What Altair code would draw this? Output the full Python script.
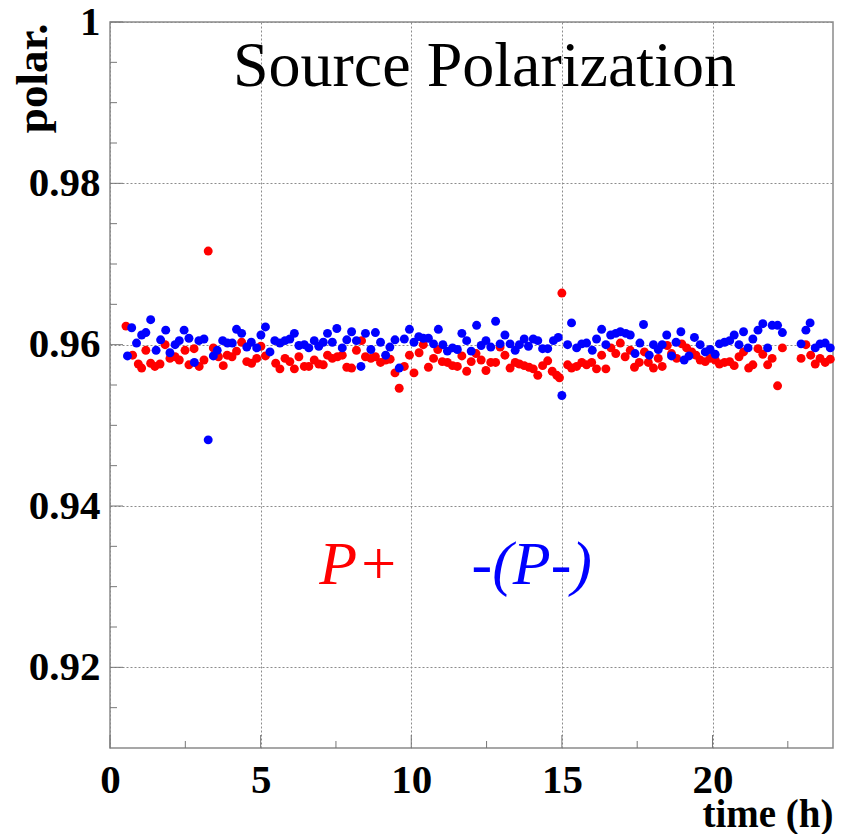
import altair as alt
import pandas as pd

# ---- data ----
blue_t = [0.58, 0.72, 0.88, 1.05, 1.19, 1.35, 1.53, 1.68, 1.85, 1.99, 2.16, 2.30, 2.46, 2.62, 2.80, 2.95,
          3.12, 3.26, 3.43, 3.56, 3.74, 3.90, 4.06, 4.20, 4.37, 4.54, 4.69, 4.87, 5.01, 5.16, 5.31, 5.47,
          5.64, 5.81, 5.97, 6.12, 6.27, 6.45, 6.60, 6.78, 6.93, 7.08, 7.22, 7.38, 7.53, 7.71, 7.86, 8.02,
          8.18, 8.33, 8.48, 8.66, 8.81, 8.98, 9.15, 9.29, 9.46, 9.60, 9.77, 9.94, 10.09, 10.25, 10.40, 10.57,
          10.74, 10.90, 11.05, 11.20, 11.37, 11.53, 11.68, 11.84, 11.99, 12.17, 12.32, 12.48, 12.64, 12.80,
          12.95, 13.11, 13.28, 13.45, 13.59, 13.75, 13.89, 14.05, 14.20, 14.36, 14.53, 14.72, 14.88, 15.00,
          15.19, 15.32, 15.49, 15.66, 15.82, 16.01, 16.15, 16.32, 16.46, 16.62, 16.79, 16.94, 17.12, 17.27,
          17.43, 17.59, 17.71, 17.90, 18.04, 18.20, 18.33, 18.48, 18.64, 18.79, 18.95, 19.06, 19.22, 19.40,
          19.59, 19.76, 19.92, 20.09, 20.23, 20.40, 20.57, 20.72, 20.88, 21.03, 21.18, 21.34, 21.51, 21.67,
          21.83, 21.98, 22.16, 22.32, 22.94, 23.10, 23.24, 23.41, 23.57, 23.74, 23.91]
blue_v = [0.9586, 0.9621, 0.9602, 0.9612, 0.9615, 0.9631, 0.9593, 0.9606, 0.9618, 0.9590, 0.9600, 0.9605,
          0.9618, 0.9608, 0.9578, 0.9605, 0.9607, 0.9482, 0.9586, 0.9593, 0.9605, 0.9602, 0.9602, 0.9619,
          0.9614, 0.9597, 0.9603, 0.9596, 0.9612, 0.9622, 0.9591, 0.9605, 0.9602, 0.9605, 0.9607, 0.9614,
          0.9599, 0.9600, 0.9596, 0.9605, 0.9598, 0.9603, 0.9614, 0.9603, 0.9620, 0.9596, 0.9606, 0.9616,
          0.9605, 0.9573, 0.9614, 0.9594, 0.9615, 0.9603, 0.9587, 0.9597, 0.9606, 0.9571, 0.9607, 0.9619,
          0.9603, 0.9610, 0.9608, 0.9608, 0.9601, 0.9619, 0.9600, 0.9592, 0.9596, 0.9594, 0.9614, 0.9605,
          0.9592, 0.9624, 0.9599, 0.9605, 0.9597, 0.9629, 0.9601, 0.9612, 0.9601, 0.9593, 0.9600, 0.9607,
          0.9598, 0.9607, 0.9605, 0.9595, 0.9595, 0.9605, 0.9609, 0.9537, 0.9600, 0.9627, 0.9596, 0.9601,
          0.9602, 0.9593, 0.9607, 0.9619, 0.9600, 0.9612, 0.9614, 0.9616, 0.9614, 0.9612, 0.9589, 0.9602,
          0.9625, 0.9587, 0.9600, 0.9594, 0.9600, 0.9612, 0.9586, 0.9603, 0.9616, 0.9581, 0.9586, 0.9609,
          0.9600, 0.9591, 0.9594, 0.9588, 0.9601, 0.9603, 0.9605, 0.9612, 0.9600, 0.9616, 0.9596, 0.9607,
          0.9618, 0.9626, 0.9596, 0.9624, 0.9624, 0.9615, 0.9601, 0.9618, 0.9627, 0.9596, 0.9601, 0.9602,
          0.9596]

red_t = [0.53, 0.75, 0.94, 1.05, 1.19, 1.35, 1.49, 1.66, 1.83, 1.99, 2.16, 2.30, 2.49, 2.62, 2.79, 2.96,
         3.12, 3.26, 3.43, 3.60, 3.76, 3.89, 4.05, 4.20, 4.37, 4.54, 4.70, 4.87, 5.01, 5.16, 5.50, 5.64,
         5.81, 5.97, 6.12, 6.27, 6.45, 6.60, 6.78, 6.93, 7.08, 7.22, 7.38, 7.55, 7.71, 7.86, 8.02, 8.18,
         8.35, 8.48, 8.66, 8.81, 8.98, 9.15, 9.30, 9.46, 9.60, 9.77, 9.94, 10.09, 10.26, 10.40, 10.57, 10.74,
         10.88, 11.03, 11.20, 11.37, 11.53, 11.68, 11.84, 11.99, 12.15, 12.32, 12.48, 12.64, 12.80, 12.95,
         13.11, 13.28, 13.45, 13.59, 13.75, 13.91, 14.05, 14.20, 14.36, 14.53, 14.68, 14.83, 14.92, 15.00,
         15.19, 15.32, 15.49, 15.66, 15.82, 15.99, 16.15, 16.32, 16.46, 16.63, 16.79, 16.94, 17.10, 17.27,
         17.41, 17.57, 17.74, 17.87, 18.04, 18.20, 18.33, 18.50, 18.64, 18.81, 18.98, 19.14, 19.31, 19.45,
         19.59, 19.76, 19.92, 20.09, 20.23, 20.40, 20.57, 20.72, 20.88, 21.03, 21.20, 21.34, 21.51, 21.67,
         21.83, 21.98, 22.16, 22.32, 22.94, 23.10, 23.26, 23.41, 23.57, 23.74, 23.91]
red_v = [0.9623, 0.9587, 0.9576, 0.9571, 0.9593, 0.9577, 0.9573, 0.9576, 0.9600, 0.9583, 0.9585, 0.9581,
         0.9593, 0.9575, 0.9595, 0.9573, 0.9581, 0.9716, 0.9596, 0.9585, 0.9574, 0.9587, 0.9585, 0.9592,
         0.9603, 0.9579, 0.9577, 0.9583, 0.9598, 0.9586, 0.9577, 0.9570, 0.9583, 0.9579, 0.9570, 0.9585,
         0.9573, 0.9573, 0.9581, 0.9576, 0.9575, 0.9587, 0.9583, 0.9585, 0.9587, 0.9572, 0.9571, 0.9593,
         0.9605, 0.9585, 0.9583, 0.9585, 0.9578, 0.9581, 0.9582, 0.9565, 0.9546, 0.9573, 0.9587, 0.9565,
         0.9590, 0.9600, 0.9572, 0.9583, 0.9594, 0.9579, 0.9578, 0.9574, 0.9573, 0.9586, 0.9567, 0.9579,
         0.9589, 0.9581, 0.9568, 0.9578, 0.9578, 0.9597, 0.9587, 0.9571, 0.9578, 0.9576, 0.9574, 0.9572,
         0.9570, 0.9562, 0.9574, 0.9580, 0.9567, 0.9562, 0.9559, 0.9664, 0.9575, 0.9571, 0.9573, 0.9578,
         0.9575, 0.9578, 0.9570, 0.9587, 0.9570, 0.9596, 0.9589, 0.9602, 0.9585, 0.9593, 0.9572, 0.9578,
         0.9591, 0.9578, 0.9571, 0.9583, 0.9573, 0.9599, 0.9589, 0.9583, 0.9601, 0.9596, 0.9591, 0.9587,
         0.9581, 0.9579, 0.9583, 0.9581, 0.9576, 0.9578, 0.9579, 0.9574, 0.9585, 0.9591, 0.9571, 0.9575,
         0.9595, 0.9588, 0.9575, 0.9583, 0.9549, 0.9596, 0.9583, 0.9600, 0.9587, 0.9576, 0.9583, 0.9578,
         0.9582]

x_major = [0, 5, 10, 15, 20]
x_minor = [2.5, 7.5, 12.5, 17.5, 22.5]
y_major = [0.92, 0.94, 0.96, 0.98, 1.0]
y_minor = [0.915, 0.925, 0.93, 0.935, 0.945, 0.95, 0.955, 0.965, 0.97, 0.975, 0.985, 0.99, 0.995]

title_text = ["Source Polarization"]
title_pos = [(4.08, 0.9921)]
legend_text = ["P+", "-(P-)"]
legend_pos = [(6.95, 0.9303), (12.0, 0.9303)]
legend_col = ["#ff0000", "#0000ff"]

X_DOM = [0, 24]
Y_DOM = [0.91, 1.0]
W, H = 723, 726
SERIF = "Liberation Serif, Times New Roman, Times, serif"

red_df = pd.DataFrame({"t": red_t, "v": red_v})
blue_df = pd.DataFrame({"t": blue_t, "v": blue_v})

xs = alt.Scale(domain=X_DOM, nice=False, zero=False)
ys = alt.Scale(domain=Y_DOM, nice=False, zero=False)

GRID = dict(grid=True, gridDash=[2, 2], gridColor="#8c8c8c", gridWidth=1)

x_axis = alt.Axis(values=x_major, format="d", domain=False, ticks=False, labelFont=SERIF,
                  labelFontWeight="bold", labelFlush=False, labelOverlap=False,
                  labelFontSize=41, labelColor="black", labelPadding=12, title="time (h)",
                  titleFont=SERIF, titleFontWeight="bold", titleFontSize=39, titleColor="black",
                  titleX=W, titleY=78, titleAlign="right", titleBaseline="alphabetic", **GRID)
y_axis = alt.Axis(values=y_major, format=".2~f", domain=False, ticks=False, labelFont=SERIF,
                  labelFontWeight="bold", labelFlush=False, labelOverlap=False,
                  labelFontSize=41, labelColor="black", labelPadding=10, title="polar.",
                  titleFont=SERIF, titleFontWeight="bold", titleFontSize=45, titleColor="black",
                  titleAngle=-90, titleX=-64, titleY=1, titleAlign="right", titleBaseline="alphabetic",
                  **GRID)

red_pts = alt.Chart(red_df).mark_circle(size=80, opacity=1, color="#ff0000").encode(
    x=alt.X("t:Q", scale=xs, axis=x_axis),
    y=alt.Y("v:Q", scale=ys, axis=y_axis),
)
blue_pts = alt.Chart(blue_df).mark_circle(size=80, opacity=1, color="#0000ff").encode(
    x=alt.X("t:Q", scale=xs),
    y=alt.Y("v:Q", scale=ys),
)

# inward ticks (ROOT style)
def xticks(vals, length):
    return alt.Chart(pd.DataFrame({"t": vals})).mark_rule(color="#777", strokeWidth=1).encode(
        x=alt.X("t:Q", scale=xs), y=alt.value(H), y2=alt.value(H - length))

def yticks(vals, length):
    return alt.Chart(pd.DataFrame({"v": vals})).mark_rule(color="#777", strokeWidth=1).encode(
        y=alt.Y("v:Q", scale=ys), x=alt.value(0), x2=alt.value(length))

title_df = pd.DataFrame({"t": [p[0] for p in title_pos], "v": [p[1] for p in title_pos], "txt": title_text})
title_mark = alt.Chart(title_df).mark_text(font=SERIF, fontSize=64, align="left", baseline="alphabetic",
                                           color="black").encode(
    x=alt.X("t:Q", scale=xs), y=alt.Y("v:Q", scale=ys), text="txt:N")

leg_df = pd.DataFrame({"t": [p[0] for p in legend_pos], "v": [p[1] for p in legend_pos],
                       "txt": legend_text, "col": legend_col})
leg_mark = alt.Chart(leg_df).mark_text(font=SERIF, fontSize=62, fontStyle="italic", align="left",
                                       baseline="alphabetic").encode(
    x=alt.X("t:Q", scale=xs), y=alt.Y("v:Q", scale=ys), text="txt:N",
    color=alt.Color("col:N", scale=None))

chart = alt.layer(
    red_pts, blue_pts,
    xticks(x_major, 13), xticks(x_minor, 7), yticks(y_major, 13), yticks(y_minor, 7),
    title_mark, leg_mark,
).properties(
    width=W, height=H,
    autosize=alt.AutoSizeParams(type="none"),
    padding={"left": 110, "top": 22, "right": 16, "bottom": 86},
    background="white",
).configure_view(stroke="#8a8a8a", strokeWidth=1.5)

chart.save("out.html", embed_options={"renderer": "svg", "actions": False})
